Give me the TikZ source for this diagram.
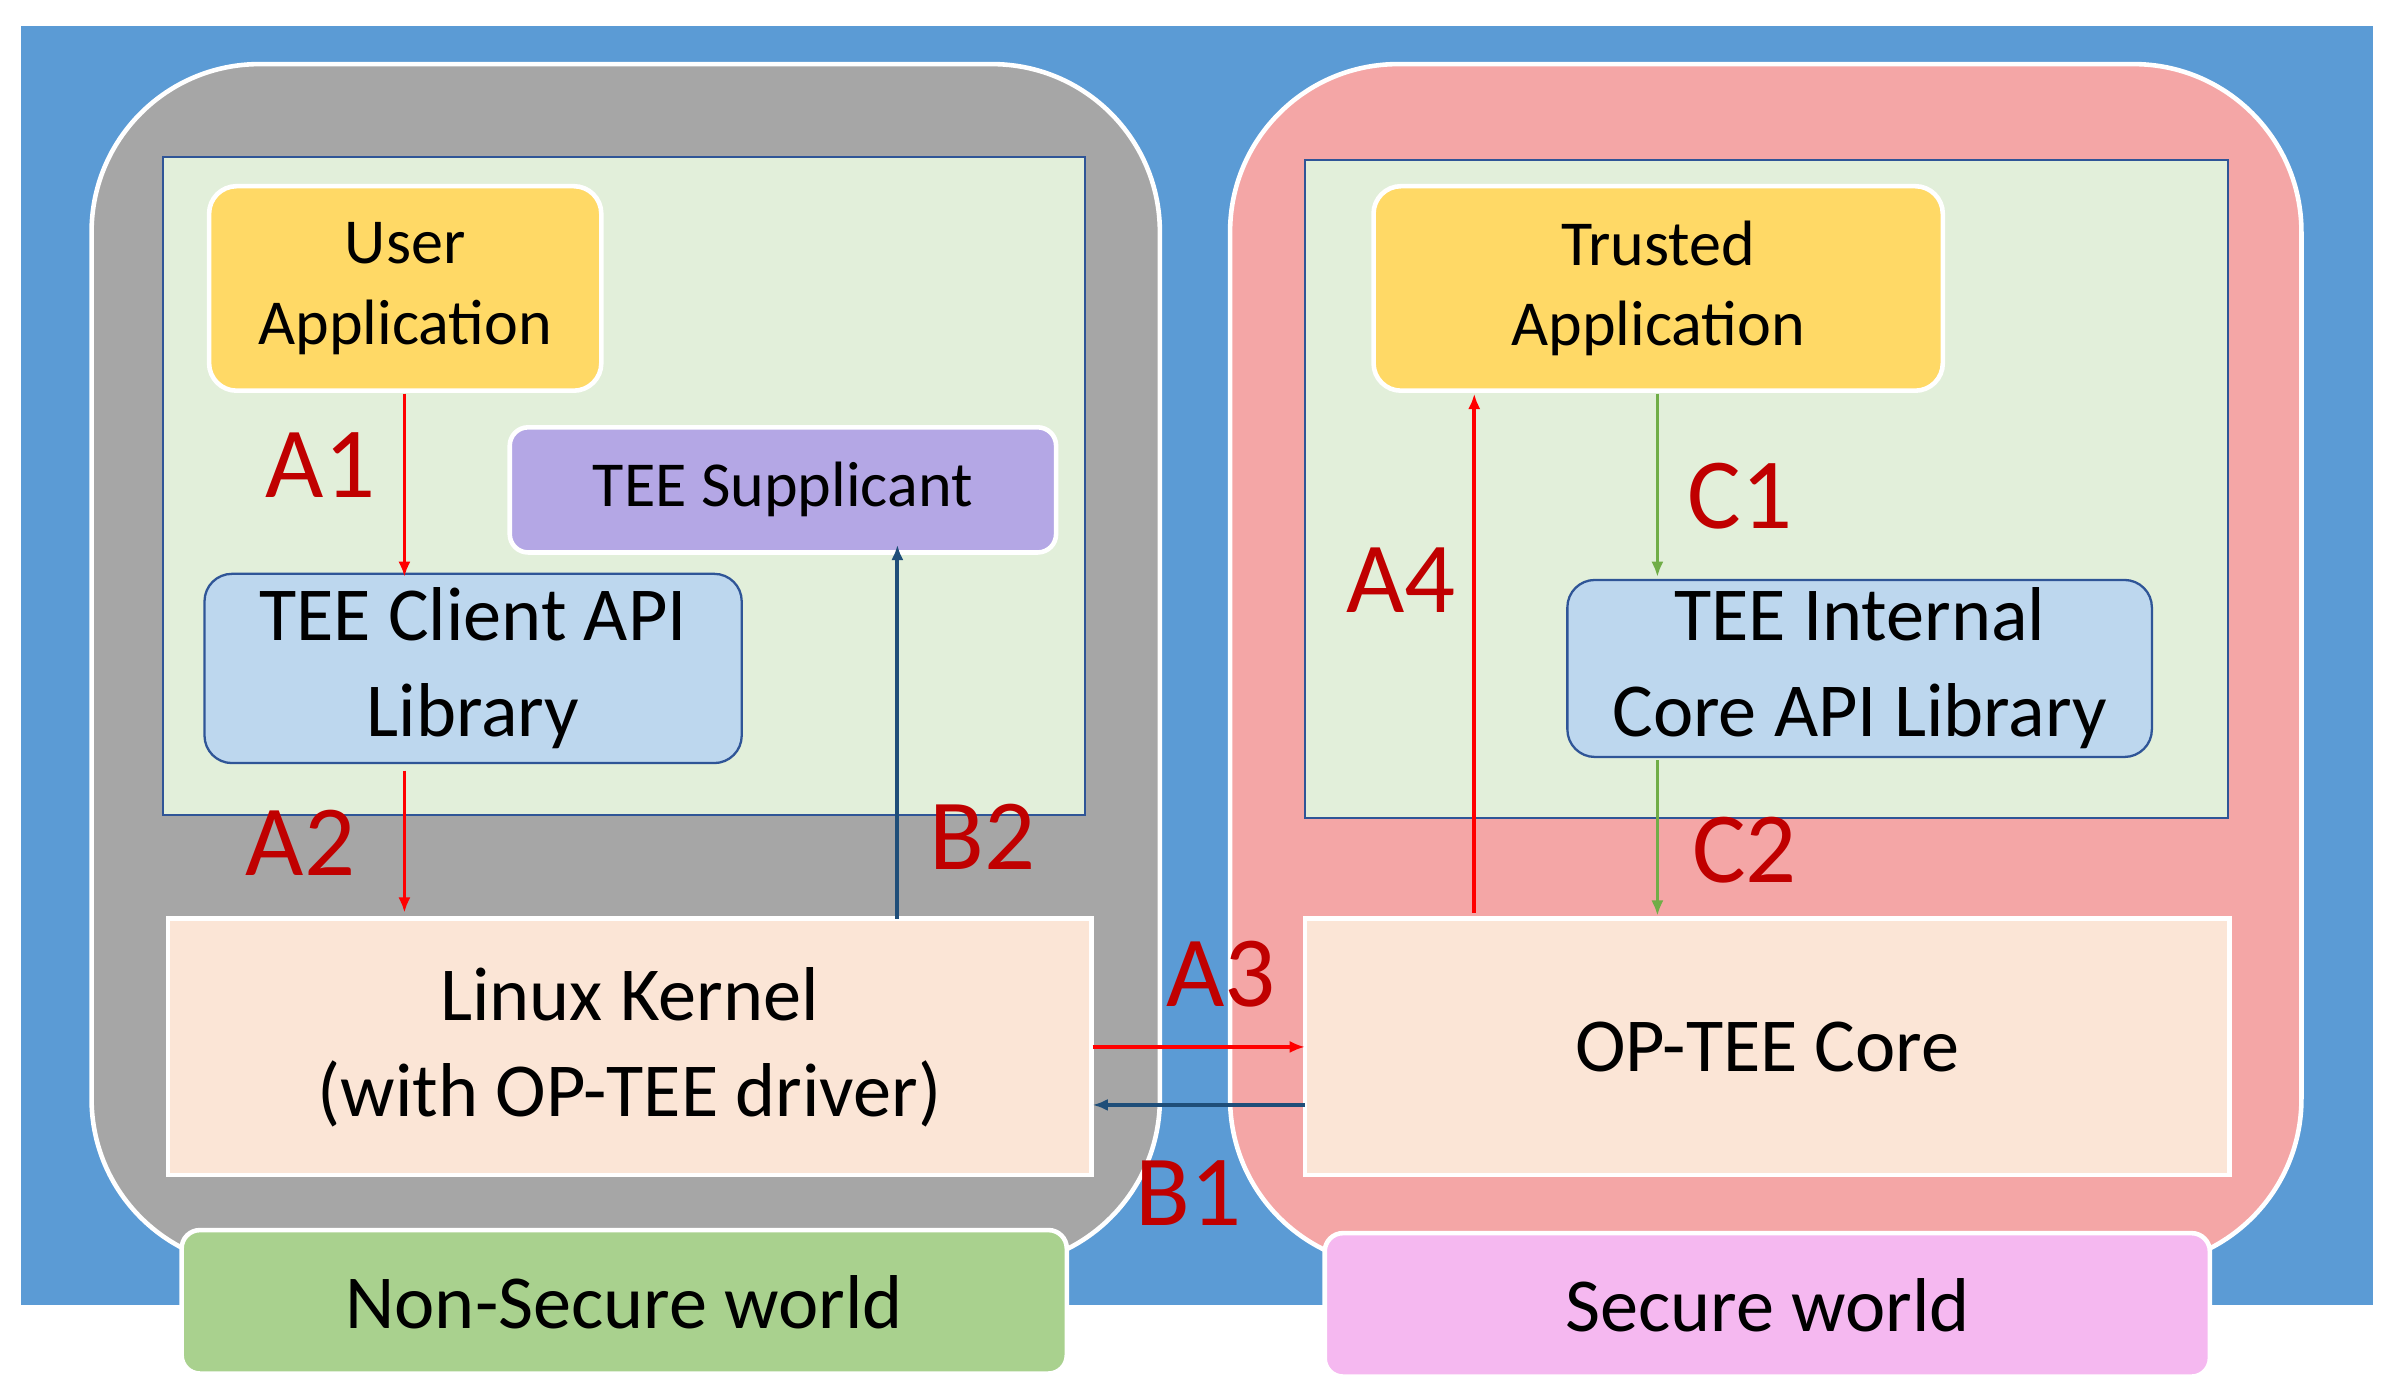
\documentclass[tikz,border=0pt]{standalone}
\usepackage{fontspec}
\setmainfont{Carlito}
\usetikzlibrary{arrows.meta}
\definecolor{bgblue}{HTML}{5B9BD5}
\definecolor{gr}{HTML}{A6A6A6}
\definecolor{pk}{HTML}{F4A6A6}
\definecolor{lg}{HTML}{E2EFDA}
\definecolor{yl}{HTML}{FFD966}
\definecolor{pu}{HTML}{B4A7E5}
\definecolor{lb}{HTML}{BDD7EE}
\definecolor{pe}{HTML}{FBE5D6}
\definecolor{ng}{HTML}{A9D18E}
\definecolor{sw}{HTML}{F5B8F0}
\definecolor{dk}{HTML}{2F5597}
\definecolor{lr}{HTML}{C00000}
\definecolor{ar}{HTML}{1F4E79}
\definecolor{ag}{HTML}{70AD47}
\begin{document}
\begin{tikzpicture}[x=1pt,y=-1pt,
  box/.style={draw=white,line width=3pt,rounded corners=18pt,align=center,font=\fontsize{42}{53}\selectfont},
  lab/.style={text=lr,font=\fontsize{66}{66}\selectfont},
  arr/.style={-{Latex[length=10pt,width=8pt]},line width=2.5pt}]
\useasboundingbox (0,0) rectangle (1568,915);
\fill[white] (0,0) rectangle (1568,915);
\fill[bgblue] (14,17) rectangle (1555,855);
\draw[white,line width=3pt,fill=gr,rounded corners=110pt] (60,42) rectangle (760,830);
\draw[white,line width=3pt,fill=pk,rounded corners=110pt] (806,42) rectangle (1508,830);
\draw[dk,line width=1.5pt,fill=lg] (107,103) rectangle (711,534);
\draw[dk,line width=1.5pt,fill=lg] (855,105) rectangle (1460,536);
\node[box,fill=yl,minimum width=257pt,minimum height=134pt] (ua) at (265.5,189) {User\\Application};
\node[box,fill=pu,minimum width=358pt,minimum height=82pt,rounded corners=12pt] (ts) at (513,321) {TEE Supplicant};
\node[box,draw=dk,line width=1.5pt,fill=lb,minimum width=352pt,minimum height=124pt,font=\fontsize{50}{63}\selectfont] (ca) at (310,438) {TEE Client API\\Library};
\node[box,fill=pe,rounded corners=0pt,minimum width=605pt,minimum height=168pt,font=\fontsize{50}{63}\selectfont] (lk) at (412.5,686) {Linux Kernel\\(with OP-TEE driver)};
\node[box,fill=pe,rounded corners=0pt,minimum width=606pt,minimum height=168pt,font=\fontsize{50}{63}\selectfont] (oc) at (1158,686) {OP-TEE Core};
\node[box,fill=yl,minimum width=373pt,minimum height=134pt] (ta) at (1086.5,189) {Trusted\\Application};
\node[box,draw=dk,line width=1.5pt,fill=lb,minimum width=383pt,minimum height=116pt,font=\fontsize{50}{63}\selectfont] (ic) at (1218.5,438) {TEE Internal\\Core API Library};
\node[box,fill=ng,rounded corners=12pt,minimum width=580pt,minimum height=94pt,font=\fontsize{50}{55}\selectfont] (ns) at (409,853) {Non-Secure world};
\node[box,fill=sw,rounded corners=12pt,minimum width=580pt,minimum height=94pt,font=\fontsize{50}{55}\selectfont] (sw) at (1158,855) {Secure world};
\draw[arr,red] (265,258) -- (265,378);
\draw[arr,red] (265,505) -- (265,598);
\draw[arr,ar] (588,602) -- (588,357);
\draw[arr,red] (716,686) -- (855,686);
\draw[arr,ar] (855,724) -- (716,724);
\draw[arr,red] (966,598) -- (966,258);
\draw[arr,ag] (1086,258) -- (1086,378);
\draw[arr,ag] (1086,498) -- (1086,600);
\node[lab] (a1) at (210,305) {A1};
\node[lab] (a2) at (197,552) {A2};
\node[lab] (b2) at (644,548) {B2};
\node[lab] (a3) at (800,638) {A3};
\node[lab] (b1) at (779,782) {B1};
\node[lab] (a4) at (918,380) {A4};
\node[lab] (c1) at (1140,325) {C1};
\node[lab] (c2) at (1143,557) {C2};
\end{tikzpicture}
\end{document}
